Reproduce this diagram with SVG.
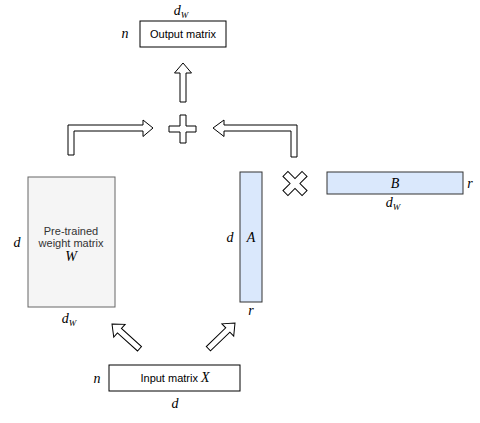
<svg xmlns="http://www.w3.org/2000/svg" width="480" height="423" viewBox="0 0 480 423">
<style>
.box{fill:#ffffff;stroke:#000000;stroke-width:1}
.wbox{fill:#f5f5f5;stroke:#666666;stroke-width:1}
.lbox{fill:#dae8fc;stroke:#333333;stroke-width:1}
.arr{fill:#ffffff;stroke:#000000;stroke-width:1;stroke-linejoin:miter}
.t{font-family:"Liberation Sans",Arial,sans-serif;font-size:11px;fill:#000000;text-anchor:middle}
.tg{font-family:"Liberation Sans",Arial,sans-serif;font-size:11px;fill:#333333;text-anchor:middle}
.m{font-family:"Liberation Serif","Times New Roman",serif;font-style:italic;font-size:14px;fill:#000000;text-anchor:middle}
.s{font-size:9px}
</style>
<rect width="480" height="423" fill="#ffffff"/>
<g id="output">
<rect class="box" x="140" y="21" width="86" height="26"/>
<text class="t" x="183" y="38">Output matrix</text>
<text class="m" x="125" y="38">n</text>
<text class="m" x="181" y="15">d<tspan class="s" dy="3">W</tspan></text>
</g>
<g id="weight">
<rect class="wbox" x="28" y="177" width="87" height="130"/>
<text class="tg" x="71" y="235">Pre-trained</text>
<text class="tg" x="71" y="247">weight matrix</text>
<text class="m" x="71" y="261" fill="#333333">W</text>
<text class="m" x="17" y="247">d</text>
<text class="m" x="69" y="323">d<tspan class="s" dy="3">W</tspan></text>
</g>
<g id="A">
<rect class="lbox" x="240" y="172" width="22" height="130"/>
<text class="m" x="251" y="242">A</text>
<text class="m" x="230" y="242">d</text>
<text class="m" x="251" y="315">r</text>
</g>
<g id="B">
<rect class="lbox" x="327" y="172" width="136" height="22"/>
<text class="m" x="395" y="188">B</text>
<text class="m" x="470" y="188">r</text>
<text class="m" x="393" y="207">d<tspan class="s" dy="3">W</tspan></text>
</g>
<g id="input">
<rect class="box" x="109" y="365" width="131" height="26"/>
<text class="t" x="175" y="382">Input matrix <tspan font-family="Liberation Serif,serif" font-style="italic" font-size="14px">X</tspan></text>
<text class="m" x="97" y="383">n</text>
<text class="m" x="175" y="408">d</text>
</g>
<g id="plus">
<path class="arr" d="M180,115 L186,115 L186,126 L196,126 L196,132 L186,132 L186,143 L180,143 L180,132 L169,132 L169,126 L180,126 Z"/>
</g>
<g id="times">
<path class="arr" transform="translate(295,183.5) rotate(45)" d="M-3.5,-13.5 L3.5,-13.5 L3.5,-3.5 L13.5,-3.5 L13.5,3.5 L3.5,3.5 L3.5,13.5 L-3.5,13.5 L-3.5,3.5 L-13.5,3.5 L-13.5,-3.5 L-3.5,-3.5 Z"/>
</g>
<g id="connectors">
<path class="arr" d="M183,63 L191.5,73 L186,73 L186,102 L180,102 L180,73 L174.5,73 Z"/>
<path class="arr" d="M68,155 L68,125 L143,125 L143,120 L153,128 L143,136.5 L143,131 L74,131 L74,155 Z"/>
<path class="arr" d="M297,157 L297,125 L224,125 L224,120 L213,128 L224,136.5 L224,131 L291,131 L291,157 Z"/>
<path class="arr" transform="translate(112,324) rotate(-48)" d="M0,0 L8.5,10 L3,10 L3,37 L-3,37 L-3,10 L-8.5,10 Z"/>
<path class="arr" transform="translate(235,323) rotate(46)" d="M0,0 L8.5,10 L3,10 L3,37 L-3,37 L-3,10 L-8.5,10 Z"/>
</g>
</svg>
